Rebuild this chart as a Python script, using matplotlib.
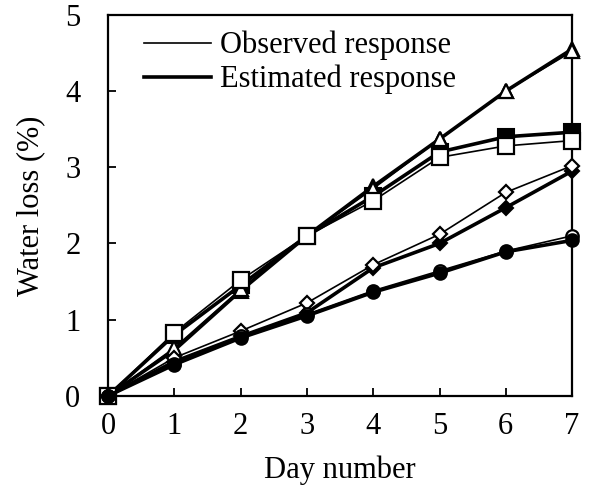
import matplotlib.pyplot as plt
from matplotlib.lines import Line2D

plt.rcParams['font.family'] = ['Liberation Serif', 'DejaVu Serif']

days = [0, 1, 2, 3, 4, 5, 6, 7]

# observed (open markers) and estimated (filled markers) water loss, %
tri_obs = [0, 0.63, 1.40, 2.10, 2.72, 3.37, 4.00, 4.52]
tri_est = [0, 0.60, 1.38, 2.10, 2.75, 3.37, 4.00, 4.55]
sq_obs = [0, 0.83, 1.52, 2.10, 2.56, 3.13, 3.28, 3.35]
sq_est = [0, 0.80, 1.45, 2.10, 2.62, 3.20, 3.40, 3.46]
dia_obs = [0, 0.50, 0.85, 1.22, 1.72, 2.12, 2.67, 3.02]
dia_est = [0, 0.45, 0.78, 1.09, 1.68, 2.00, 2.47, 2.95]
cir_obs = [0, 0.42, 0.78, 1.07, 1.38, 1.64, 1.90, 2.10]
cir_est = [0, 0.41, 0.76, 1.05, 1.36, 1.61, 1.89, 2.04]

fig = plt.figure(figsize=(5.91, 4.96), dpi=100)
ax = fig.add_axes([0.183, 0.202, 0.785, 0.768])

# (observed, estimated, marker, size, estimated drawn on top?)
groups = [
    (tri_obs, tri_est, '^', 10, False),
    (sq_obs, sq_est, 's', 11, False),
    (dia_obs, dia_est, 'D', 7, False),
    (cir_obs, cir_est, 'o', 9, True),
]

for obs, est, m, ms, est_top in groups:
    ax.plot(days, est, color='black', lw=2.6, marker=m, ms=ms,
            mfc='black', mec='black', mew=1.5, clip_on=False,
            zorder=5 if est_top else 3)
    ax.plot(days, obs, color='black', lw=1.2, marker=m, ms=ms,
            mfc='white', mec='black', mew=1.6, clip_on=False, zorder=4)

ax.set_xlim(0, 7)
ax.set_ylim(0, 5)
ax.set_xticks(days)
ax.set_yticks([0, 1, 2, 3, 4, 5])
ax.tick_params(axis='both', direction='in', length=6, width=1.3, labelsize=22)
ax.tick_params(axis='x', pad=12)
ax.tick_params(axis='y', pad=20)
for s in ax.spines.values():
    s.set_linewidth(1.6)

ax.set_xlabel('Day number', fontsize=22, labelpad=10)
ax.set_ylabel('Water loss (%)', fontsize=22, labelpad=14)

handles = [Line2D([], [], color='black', lw=1.2),
           Line2D([], [], color='black', lw=2.6)]
ax.legend(handles, ['Observed response', 'Estimated response'],
          loc='upper left', bbox_to_anchor=(0.05, 0.99), frameon=False,
          fontsize=22, handlelength=2.2, handletextpad=0.3, labelspacing=0.15,
          borderaxespad=0)

fig.savefig('out.png', dpi=100)
